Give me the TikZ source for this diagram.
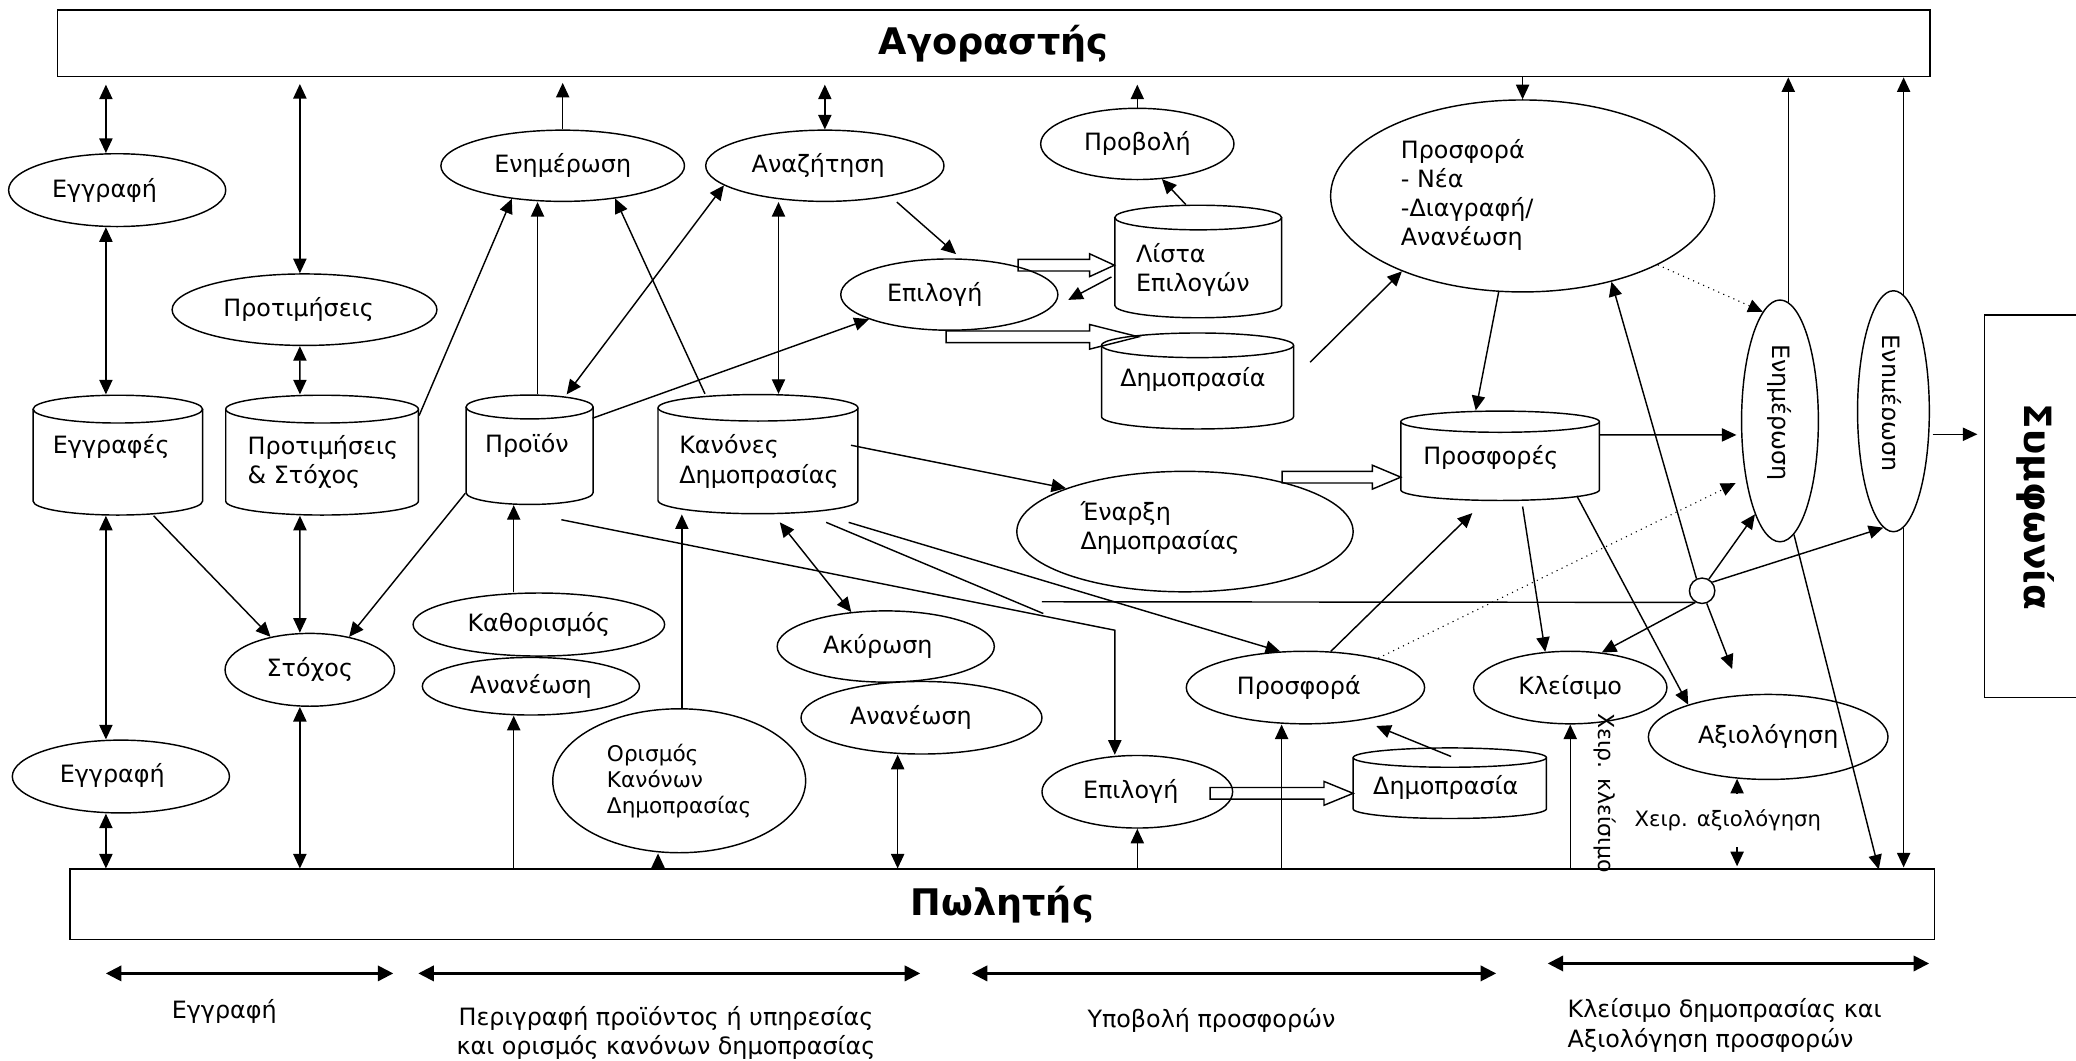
\documentclass[tikz,border=0pt]{standalone}
\usepackage{fontspec}
\setmainfont{DejaVu Sans}
\usetikzlibrary{shapes.geometric,arrows.meta,calc}
\newcommand\cylshape[5]{%
  \draw[fill=white] (#1,#3) -- (#1,#4) arc[start angle=180,end angle=0,x radius={(#2-#1)/2},y radius=#5] -- (#2,#3);
  \draw[fill=white] ({(#1+#2)/2},#3) ellipse[x radius={(#2-#1)/2},y radius=#5];}
\newcommand\holarrow[5]{\draw (#1,#4-4.4) -- (#2,#4-4.4) -- (#2,#4-#5) -- (#3,#4) -- (#2,#4+#5) -- (#2,#4+4.4) -- (#1,#4+4.4) -- cycle;}
\begin{document}
\begin{tikzpicture}[x=0.6pt,y=-0.6pt,line width=0.65pt,
  font=\fontsize{10.8}{13.2}\selectfont,
  >={Triangle[length=6.6pt,width=6pt]},
  el/.style 2 args={ellipse,draw,fill=white,minimum width=#1*0.6pt,minimum height=#2*0.6pt,inner sep=0pt},
  box/.style 2 args={rectangle,minimum width=#1*0.6pt,minimum height=#2*0.6pt,inner sep=0pt},
  phase/.style={{Triangle[length=7pt,width=7pt]}-{Triangle[length=7pt,width=7pt]},line width=1pt},
  bigt/.style={font=\bfseries\fontsize{16.6}{19}\selectfont},
  smallt/.style={font=\fontsize{9.8}{11.8}\selectfont},
  lblt/.style={font=\fontsize{9.6}{11.5}\selectfont},
  dots/.style={->,dotted,line width=0.5pt}]
\useasboundingbox (0,0) rectangle (1568,801);
\fill[white] (0,0) rectangle (1568,801);
\clip (0,0) rectangle (1568,801);

% ---- main boxes
\node[box={1414.5}{50.3},draw,bigt] (top) at (750.5,32.75) {Αγοραστής};
\node[box={1408.5}{53},draw,bigt] (bot) at (757,683) {Πωλητής};
\node[box={140}{289},draw,anchor=west] (sym) at (1498.5,382.5) {};
\node[rotate=-90,font=\bfseries\fontsize{17}{20}\selectfont] at (1537.6,383) {Συμφωνία};

% ---- cylinders
\cylshape{25}{153}{309}{378.5}{10.5}
\cylshape{170.5}{316}{309}{378.5}{10.5}
\cylshape{352}{448}{307.4}{372}{9}
\cylshape{497}{648}{308}{378}{10}
\cylshape{842}{968}{164.3}{230.7}{9.3}
\cylshape{832}{977}{260.8}{314.7}{9.3}
\cylshape{1058}{1208}{318.5}{370}{8}
\cylshape{1022}{1168}{572.2}{610.9}{7.3}
\node[box={128}{90.6}] (regs) at (89,343.7) {};
\node[box={145.5}{90.6}] (prefgoal) at (243.25,343.7) {};
\node[box={96}{82.6}] (prod) at (400,339.7) {};
\node[box={151}{90}] (rulesdb) at (572.5,343) {};
\node[box={126}{85}] (list) at (905,197.5) {};
\node[box={145}{72.5}] (auc1) at (904.5,287.75) {};
\node[box={150}{67.5}] (offers) at (1133,344.25) {};
\node[box={146}{53.3}] (auc2) at (1095,591.55) {};
\node at (84,337.4) {Εγγραφές};
\node[anchor=west,align=left] at (181,348.7) {Προτιμήσεις\\\& Στόχος};
\node at (398,336.5) {Προϊόν};
\node[anchor=west,align=left] at (507,348.5) {Κανόνες\\Δημοπρασίας};
\node[anchor=west,align=left] at (852,204) {Λίστα\\Επιλογών};
\node at (901,286.7) {Δημοπρασία};
\node at (1126,345.3) {Προσφορές};
\node at (1092,594.7) {Δημοπρασία};

% ---- ellipses
\node[el={164}{55}] (reg1) at (88.5,143.6) {};
\node at (79,143.6) {Εγγραφή};
\node[el={200}{54}] (pref) at (230,233.9) {};
\node at (225.5,233.9) {Προτιμήσεις};
\node[el={184}{53.8}] (upd) at (425,125.2) {Ενημέρωση};
\node[el={180}{53.8}] (srch) at (623,125.2) {};
\node at (618,125.2) {Αναζήτηση};
\node[el={146}{53.8}] (view) at (859,108.7) {Προβολή};
\node[el={164}{53.8}] (sel1) at (717,222.5) {};
\node at (706,222.5) {Επιλογή};
\node[el={290}{145}] (offer) at (1150,148) {};
\node[anchor=west,align=left] at (1052,147.3) {Προσφορά\\- Νέα\\-Διαγραφή/\\Ανανέωση};
\node[el={254}{91}] (start) at (895,401.5) {};
\node[anchor=west,align=left] at (810,399) {Έναρξη\\Δημοπρασίας};
\node[el={58}{182.6}] (v1) at (1344.4,317.9) {};
\node[rotate=-90] at (1343.8,311.6) {Ενημέρωση};
\node[el={54.2}{182}] (v2) at (1430.1,310.6) {};
\begin{scope}
\clip (1422,200) rectangle (1470,420);
\node[rotate=-90] at (1427.2,304.4) {Ενημέρωση};
\end{scope}
\node[el={164}{55}] (reg2) at (91.3,586.5) {};
\node at (84.8,585.8) {Εγγραφή};
\node[el={128}{55}] (goal) at (234,505.9) {Στόχος};
\node[el={190}{47.6}] (def) at (407,471.7) {Καθορισμός};
\node[el={164}{43.5}] (ren1) at (401,518.3) {Ανανέωση};
\node[el={191}{108.7},smallt,align=left] (rules) at (513,589.7) {Ορισμός\\Κανόνων\\Δημοπρασίας};
\node[el={164}{53.8}] (cancel) at (669,488.3) {};
\node at (663,488.3) {Ακύρωση};
\node[el={182}{54.8}] (ren2) at (696,542.1) {};
\node at (688,542.1) {Ανανέωση};
\node[el={144}{54.8}] (sel2) at (859,598) {};
\node at (854,598) {Επιλογή};
\node[el={180}{54.8}] (bid) at (986,519.3) {};
\node at (981,519.3) {Προσφορά};
\node[el={146}{54.8}] (close) at (1186,519.3) {Κλείσιμο};
\node[el={181}{64.2}] (eval) at (1335.5,556.6) {Αξιολόγηση};
\node[el={19.2}{19.2}] (circ) at (1285.6,446.2) {};

% ---- connectors to the buyer
\draw[<->,shorten >=3.3pt] ($(reg1.north)+(-8.5,0)$) -- ($(top.south -| reg1.north)+(-8.5,0)$);
\draw[<->,shorten >=3pt] ($(pref.north)+(-3.5,0)$) -- ($(top.south -| pref.north)+(-3.5,0)$);
\draw[->,shorten >=2.5pt] (upd.north) -- (upd.north |- top.south);
\draw[<->,shorten >=3.3pt] (srch.north) -- (srch.north |- top.south);
\draw[->,shorten >=3.3pt] (view.north) -- (view.north |- top.south);
\draw[->] (top.south -| offer.north) -- (offer.north);
\draw[->] (v1.86) -- (v1.86 |- top.south);
\draw[->] (v2.85) -- (v2.85 |- top.south);

% ---- registration / preferences
\draw[<->] ($(reg1.south)+(-8.5,0)$) -- ($(regs.north)+(-9,0)$);
\draw[<->] ($(regs.south)+(-9,0)$) -- ($(reg2.north)+(-11.3,0)$);
\draw[<->] ($(reg2.south)+(-11.3,0)$) -- ($(bot.north -| reg2.south)+(-11.3,0)$);
\draw[->] ($(regs.south)+(27,0)$) -- (goal.140);
\draw[<->] ($(pref.south)+(-3.5,0)$) -- ($(prefgoal.north)+(-16.7,0)$);
\draw[<->] ($(prefgoal.south)+(-16.7,0)$) -- ($(goal.north)+(-7.5,0)$);
\draw[<->] ($(goal.south)+(-7.5,0)$) -- ($(bot.north -| goal.south)+(-7.5,0)$);
\draw[->] ($(prefgoal.north east)+(0,16)$) -- (upd.213);

% ---- product
\draw[->] ($(prod.north)+(6,0)$) -- ($(upd.south)+(-19,0)$);
\draw[<->] (srch.191) -- ($(prod.north)+(28,0)$);
\draw[->] ($(prod.north east)+(-1,18)$) -- (sel1.197);
\draw[->] ($(prod.south west)+(0,-9)$) -- (goal.40);
\draw[->] ($(def.north)+(-19,0)$) -- ($(prod.south)+(-12,0)$);
\draw[->] ($(bot.north -| ren1.south)+(-13,0)$) -- ($(ren1.south)+(-13,0)$);
\coordinate (h2) at (842,476);
\draw[->] ($(prod.south)+(24,11)$) -- (h2) -- (h2 |- sel2.north);

% ---- search / rules
\draw[->,shorten <=4pt,shorten >=3pt] (srch.335) -- (sel1.72);
\draw[<->] ($(srch.south)+(-35,0)$) -- ($(rulesdb.north)+(15.5,0)$);
\draw[->] ($(rulesdb.north west)+(36,0)$) -- (upd.328);
\draw[->] ($(rulesdb.east)+(-5.8,-6.7)$) -- (start.160);
\coordinate (h1) at (788,463.4);
\draw ($(rulesdb.south)+(51.5,6)$) -- (h1);
\coordinate (h0) at (787,454.5);
\draw (h0) -- (circ.240);
\draw[->] ($(rulesdb.south)+(68.5,6)$) -- (bid.125);
\draw[<->] ($(rulesdb.south)+(16.5,6)$) -- (cancel.135);
\draw[->] ($(rules.north)+(2,0)$) -- ($(rulesdb.south)+(-57.5,0)$);
\draw[->] ($(bot.north -| rules.south)+(-16,0)$) -- ($(rules.south)+(-16,0)$);
\draw[<->] ($(ren2.south)+(-18,0)$) -- ($(bot.north -| ren2.south)+(-18,0)$);

% ---- selection / list / auction
\holarrow{769}{823}{841.7}{200.3}{8.6}
\draw[->] ($(list.west)+(-2,11.7)$) -- ($(sel1.east)+(7.3,4)$);
\draw[->] ($(list.north)+(-9.4,0)$) -- (view.305);
\holarrow{714.6}{823}{860}{254.4}{9.3}
\draw[->] ($(auc1.north east)+(12,22.6)$) -- (offer.212);

% ---- offers
\holarrow{968.4}{1036.6}{1058}{360.4}{9}
\draw[->] (offer.256) -- ($(offers.north)+(-18.4,0)$);
\draw[->,shorten >=2pt] ($(offers.east)+(0,-15.75)$) -- ($(v1.west)+(0,10.6)$);
\draw[dots] (offer.333) -- (v1.99);
\draw[->] (bid.55) -- ($(offers.south)+(-21,9)$);
\draw[->] ($(offers.south)+(17,4)$) -- (close.125);
\draw[->] ($(offers.south)+(58,-4)$) -- (eval.158);
\draw[dots] (bid.22) -- ($(v1.west)+(-4,47)$);

% ---- seller side
\draw[->] (bot.north -| sel2.south) -- (sel2.south);
\holarrow{914}{1000}{1022}{599.2}{9}
\draw[->,shorten >=7pt] ($(auc2.north)+(1,7)$) -- (bid.330);
\draw[->] ($(bot.north -| bid.south)+(-18,0)$) -- ($(bid.south)+(-18,0)$);
\draw[->] (bot.north -| close.south) -- (close.south);
\node[rotate=-90,font=\fontsize{10}{12}\selectfont] at (1212,599) {Χειρ. κλείσιμο};
\draw[<->,shorten >=1pt] ($(eval.south)+(-23.5,-1)$) -- ($(bot.north -| eval.south)+(-23.5,0)$);
\node[fill=white,inner sep=1pt,minimum height=24pt,lblt] at (1305,619.6) {Χειρ. αξιολόγηση};

% ---- junction circle
\draw[->] (circ.240) -- (close.48);
\draw[->,shorten >=12pt] (circ.290) -- ($(eval.north)+(-20,0)$);
\draw[->] (circ.60) -- (v1.255);
\draw[->] (circ.40) -- (v2.265);
\draw[->] (circ.115) -- (offer.316);

% ---- right side
\coordinate (vb1) at (1419,656.6);
\draw[->] (v1.277) -- (vb1);
\draw[->,shorten >=0.5pt] (v2.275) -- (v2.275 |- bot.north);
\draw[->,shorten >=3pt] ($(v2.east)+(2,17.4)$) -- ($(sym.west |- v2.east)+(0,17.4)$);

% ---- phases
\draw[phase] (80,735.2) -- (297,735.2);
\draw[phase] (316,735.2) -- (695,735.2);
\draw[phase] (734,735.2) -- (1130,735.2);
\draw[phase] (1169,727.7) -- (1457,727.7);
\node at (169.4,764.1) {Εγγραφή};
\node[align=center] at (503,779.9) {Περιγραφή προϊόντος ή υπηρεσίας\\και ορισμός κανόνων δημοπρασίας};
\node at (915,770.8) {Υποβολή προσφορών};
\node[anchor=west,align=left] at (1178,774.5) {Κλείσιμο δημοπρασίας και\\Αξιολόγηση προσφορών};
\end{tikzpicture}
\end{document}
